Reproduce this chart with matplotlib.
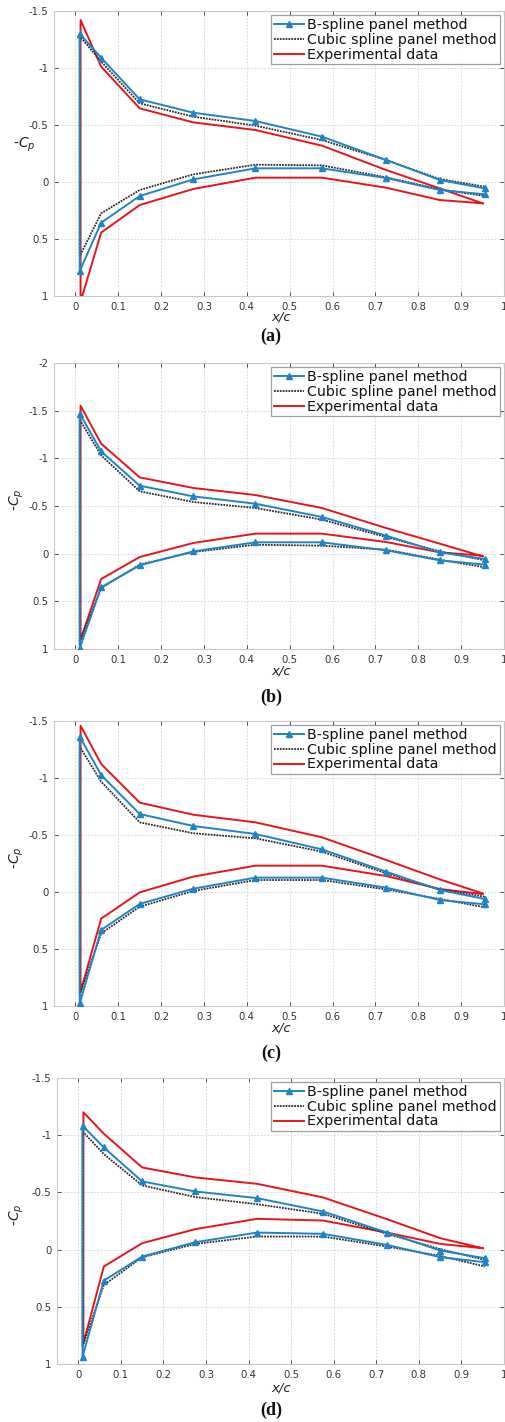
import matplotlib
matplotlib.use("Agg")
import matplotlib.pyplot as plt
import numpy as np

# ---------------- data ----------------
x_pts = [0.01, 0.06, 0.15, 0.275, 0.42, 0.575, 0.725, 0.85, 0.955]
x_exp = [0.012, 0.06, 0.15, 0.275, 0.42, 0.575, 0.725, 0.85, 0.95]

# panel (a)
a_bs_up = [-1.30, -1.09, -0.725, -0.608, -0.535, -0.398, -0.193, -0.018, 0.056]
a_bs_lo = [0.781, 0.357, 0.123, -0.023, -0.120, -0.120, -0.035, 0.070, 0.108]
a_cs_up = [-1.28, -1.056, -0.69, -0.573, -0.494, -0.368, -0.193, -0.026, 0.041]
a_cs_lo = [0.65, 0.275, 0.07, -0.067, -0.152, -0.146, -0.041, 0.064, 0.123]
a_ex_up = [-1.421, -1.012, -0.646, -0.523, -0.456, -0.319, -0.105, 0.056, 0.187]
a_ex_lo = [1.05, 0.444, 0.202, 0.061, -0.038, -0.038, 0.050, 0.158, 0.187]

# panel (b)
b_bs_up = [-1.469, -1.073, -0.713, -0.601, -0.524, -0.385, -0.189, -0.014, 0.056]
b_bs_lo = [0.99, 0.353, 0.122, -0.024, -0.119, -0.119, -0.035, 0.070, 0.115]
b_cs_up = [-1.406, -1.031, -0.654, -0.542, -0.479, -0.357, -0.175, -0.024, 0.070]
b_cs_lo = [0.92, 0.36, 0.115, -0.017, -0.094, -0.084, -0.042, 0.063, 0.143]
b_ex_up = [-1.552, -1.154, -0.80, -0.689, -0.615, -0.479, -0.269, -0.105, 0.028]
b_ex_lo = [0.902, 0.266, 0.035, -0.112, -0.21, -0.21, -0.122, -0.014, 0.021]

# panel (c)
c_bs_up = [-1.363, -1.026, -0.684, -0.579, -0.509, -0.374, -0.178, -0.018, 0.061]
c_bs_lo = [0.977, 0.333, 0.105, -0.029, -0.126, -0.126, -0.038, 0.070, 0.108]
c_cs_up = [-1.275, -0.968, -0.611, -0.515, -0.471, -0.354, -0.164, -0.023, 0.041]
c_cs_lo = [0.904, 0.363, 0.129, -0.009, -0.105, -0.105, -0.023, 0.061, 0.134]
c_ex_up = [-1.459, -1.123, -0.784, -0.678, -0.611, -0.48, -0.281, -0.111, 0.012]
c_ex_lo = [0.874, 0.234, 0.003, -0.135, -0.231, -0.231, -0.140, -0.026, 0.018]

# panel (d)
d_bs_up = [-1.083, -0.893, -0.596, -0.508, -0.450, -0.333, -0.149, 0.008, 0.075]
d_bs_lo = [0.936, 0.271, 0.061, -0.065, -0.149, -0.138, -0.041, 0.066, 0.110]
d_cs_up = [-1.033, -0.835, -0.561, -0.459, -0.397, -0.313, -0.138, -0.004, 0.090]
d_cs_lo = [0.848, 0.309, 0.067, -0.050, -0.114, -0.114, -0.027, 0.055, 0.148]
d_ex_up = [-1.20, -1.013, -0.718, -0.631, -0.575, -0.456, -0.266, -0.100, -0.012]
d_ex_lo = [0.819, 0.148, -0.056, -0.179, -0.269, -0.254, -0.149, -0.050, -0.012]

panels = [
    ("a", a_bs_up, a_bs_lo, a_cs_up, a_cs_lo, a_ex_up, a_ex_lo, -1.5),
    ("b", b_bs_up, b_bs_lo, b_cs_up, b_cs_lo, b_ex_up, b_ex_lo, -2.0),
    ("c", c_bs_up, c_bs_lo, c_cs_up, c_cs_lo, c_ex_up, c_ex_lo, -1.5),
    ("d", d_bs_up, d_bs_lo, d_cs_up, d_cs_lo, d_ex_up, d_ex_lo, -1.5),
]
x_ticks = [0, 0.1, 0.2, 0.3, 0.4, 0.5, 0.6, 0.7, 0.8, 0.9, 1]
x_ticklabels = ["0", "0.1", "0.2", "0.3", "0.4", "0.5", "0.6", "0.7", "0.8", "0.9", "1"]

# ---------------- layout (pixels) ----------------
W, H = 505, 1422
ax_boxes = [  # left, top, right, bottom
    (54, 11, 504, 296),
    (54, 363, 504, 649),
    (54, 721, 504, 1006),
    (57, 1078, 504, 1364),
]
xlabel_y = [317, 671, 1028, 1388]
caption_y = [336, 697, 1053, 1410]

BLUE = "#1f84c6"
RED = "#e8141c"
BLACK = "#2a2a2a"
TICKC = "#333333"

fig = plt.figure(figsize=(W / 100, H / 100), dpi=100)
fig.patch.set_facecolor("white")


def fmt(v):
    return "%g" % v


for i, (lab, bsu, bsl, csu, csl, exu, exl, ytop) in enumerate(panels):
    l, t, r, b = ax_boxes[i]
    ax = fig.add_axes([l / W, 1 - b / H, (r - l) / W, (b - t) / H])
    xs_loop = x_pts[::-1] + x_pts
    xe_loop = x_exp[::-1] + x_exp
    bs = list(bsu[::-1]) + list(bsl)
    cs = list(csu[::-1]) + list(csl)
    ex = list(exu[::-1]) + list(exl)

    ax.plot(xe_loop, ex, color=RED, lw=1.4, zorder=2, label="Experimental data")
    ax.plot(xs_loop, cs, color=BLACK, lw=1.3, ls=(0, (1, 0.6)), zorder=3,
            label="Cubic spline panel method")
    ax.plot(xs_loop, bs, color=BLUE, lw=1.4, marker="^", ms=5,
            mfc=BLUE, mec=BLUE, zorder=4, label="B-spline panel method")

    ax.set_xlim(-0.05, 1.0)
    ax.set_ylim(1.0, ytop)
    yt = list(np.arange(ytop, 1.0001, 0.5))
    ax.set_yticks(yt)
    ax.set_yticklabels([fmt(round(v, 2)) for v in yt])
    ax.set_xticks(x_ticks)
    ax.set_xticklabels(x_ticklabels)
    ax.tick_params(direction="in", length=3, width=0.6, colors=TICKC,
                   labelsize=7.3, top=True, right=True, pad=4)
    for s in ax.spines.values():
        s.set_color("#c8c8c8")
        s.set_linewidth(0.8)
    ax.grid(True, ls=(0, (2, 2)), color="#d0d0d0", lw=0.6)
    ax.set_axisbelow(True)

    if i == 0:
        fig.text(24 / W, 1 - 145 / H, r"-$C_p$", fontsize=10, color="#222222",
                 ha="center", va="center")
    else:
        fig.text(17 / W, 1 - ((t + b) / 2 - 6) / H, r"-$C_p$", fontsize=10,
                 color="#222222", ha="center", va="center", rotation=90)

    fig.text(281 / W, 1 - xlabel_y[i] / H,
             "x/c", fontsize=9.5, style="italic", color="#222222",
             ha="center", va="center")

    handles, labels = ax.get_legend_handles_labels()
    order = [2, 1, 0]
    leg = ax.legend([handles[k] for k in order], [labels[k] for k in order],
                    loc="upper right", fontsize=10.2, frameon=True, fancybox=False,
                    borderpad=0.2, labelspacing=0.05, handlelength=2.1,
                    handletextpad=0.25, borderaxespad=0.3, shadow=False)
    leg.get_frame().set_edgecolor("#888888")
    leg.get_frame().set_linewidth(0.9)
    for txt in leg.get_texts():
        txt.set_color("#111111")

    fig.text(271 / W, 1 - caption_y[i] / H, "(" + lab + ")",
             fontsize=13, fontweight="bold", family="Liberation Serif",
             ha="center", va="center", color="#111111")

fig.savefig("out.png", dpi=100, facecolor="white")
